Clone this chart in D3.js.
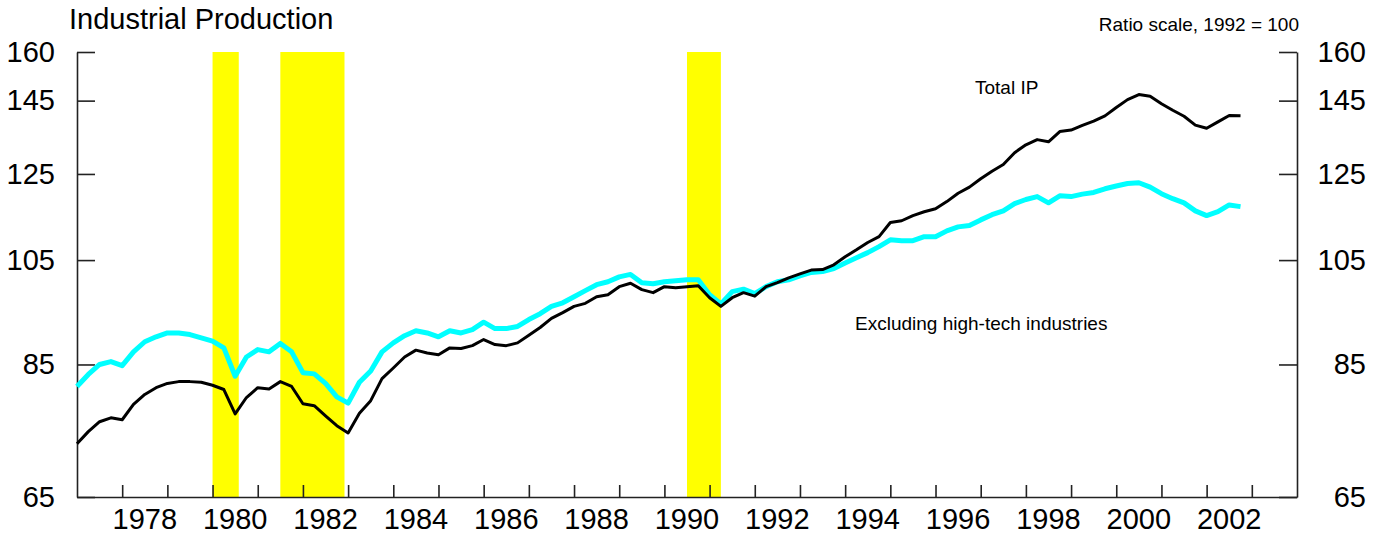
<!DOCTYPE html>
<html>
<head>
<meta charset="utf-8">
<script src="https://cdn.jsdelivr.net/npm/d3@7"></script>
<style>
  body { margin: 0; background: #fff; }
  svg text { font-family: "Liberation Sans", Arial, sans-serif; fill: #000; }
</style>
</head>
<body>
<svg width="1384" height="538"></svg>
<script>
// quarterly readings, first quarter of 1977 onwards (1992 = 100)
var startYear = 1977;
var totalIP = [
  72.4, 74.2, 75.7, 76.3,   76.0, 78.4, 80.0, 81.1,   81.8, 82.1, 82.1, 82.0,
  81.5, 80.8, 76.9, 79.5,   81.1, 80.9, 82.1, 81.3,   78.5, 78.2, 76.6, 75.1,
  74.0, 77.0, 79.0, 82.6,   84.4, 86.3, 87.5, 87.0,   86.7, 87.9, 87.8, 88.3,
  89.4, 88.5, 88.3, 88.8,   90.2, 91.6, 93.3, 94.4,   95.6, 96.2, 97.5, 97.9,
  99.5, 100.2, 98.9, 98.3,  99.5, 99.3, 99.5, 99.7,   97.3, 95.6, 97.3, 98.3,
  97.6, 99.5, 100.3, 101.3, 102.1, 102.9, 103.0, 104.0, 105.7, 107.2, 108.8, 110.1,
  113.3, 113.7, 114.9, 115.8, 116.5, 118.2, 120.2, 121.7, 123.8, 125.7, 127.4, 130.5,
  132.6, 134.0, 133.4, 136.2, 136.6, 137.9, 139.1, 140.6, 143.0, 145.3, 146.8, 146.3,
  144.1, 142.2, 140.5, 138.0, 137.1, 138.9, 140.7, 140.6
];
var exHighTech = [
  81.3, 83.3, 85.0, 85.5,   84.8, 87.2, 89.0, 89.9,   90.6, 90.6, 90.3, 89.7,
  89.1, 87.9, 83.0, 86.3,   87.6, 87.2, 88.7, 87.2,   83.6, 83.4, 81.8, 79.6,
  78.6, 82.0, 83.9, 87.2,   88.8, 90.1, 91.0, 90.6,   89.9, 91.0, 90.6, 91.2,
  92.6, 91.4, 91.4, 91.8,   93.1, 94.2, 95.6, 96.3,   97.5, 98.7, 99.9, 100.5,
  101.5, 102.0, 100.3, 100.1, 100.5, 100.7, 100.9, 100.9, 97.9, 96.1, 98.5, 99.0,
  98.1, 99.5, 100.5, 100.9, 101.7, 102.4, 102.6, 103.2, 104.4, 105.5, 106.6, 107.9,
  109.4, 109.2, 109.2, 110.1, 110.1, 111.4, 112.3, 112.6, 113.9, 115.1, 116.0, 117.7,
  118.7, 119.4, 117.9, 119.6, 119.4, 120.0, 120.4, 121.3, 122.0, 122.6, 122.8, 121.7,
  120.1, 118.9, 117.9, 116.0, 114.9, 115.8, 117.4, 117.0
];
var recessions = [[1980.0, 1980.58], [1981.5, 1982.92], [1990.5, 1991.25]];
var yTicks = [65, 85, 105, 125, 145, 160];
var yearLabels = [1978, 1980, 1982, 1984, 1986, 1988, 1990, 1992, 1994, 1996, 1998, 2000, 2002];
var yearTicks = d3.range(1978, 2004);

var svg = d3.select("svg"),
    plotLeft = 77, plotRight = 1297, plotTop = 52, plotBottom = 497;

var x = d3.scaleLinear().domain([1977, 2004]).range([plotLeft, plotRight]);
var y = d3.scaleLog().domain([65, 160]).range([plotBottom, plotTop]);

function dateOf(i) { return startYear + i / 4; }

// recession shading
svg.selectAll(".rec")
   .data(recessions)
   .enter()
   .append("rect")
   .attr("class", "rec")
   .attr("x", function(d) { return x(d[0]); })
   .attr("y", plotTop)
   .attr("width", function(d) { return x(d[1]) - x(d[0]); })
   .attr("height", plotBottom - plotTop)
   .attr("fill", "#ffff00");

// left axis
svg.append("g")
   .attr("transform", "translate(" + plotLeft + ",0)")
   .call(d3.axisLeft(y).tickValues(yTicks).tickFormat(d3.format("d"))
           .tickSizeInner(-18).tickSizeOuter(0).tickPadding(22));

// right axis
var gr = svg.append("g")
   .attr("transform", "translate(" + plotRight + ",0)")
   .call(d3.axisRight(y).tickValues(yTicks).tickFormat(d3.format("d"))
           .tickSizeInner(-18).tickSizeOuter(0).tickPadding(69));
gr.selectAll("text").attr("text-anchor", "end");

// bottom axis, ticks only
svg.append("g")
   .attr("transform", "translate(0," + plotBottom + ")")
   .call(d3.axisBottom(x).tickValues(yearTicks).tickFormat("")
           .tickSizeInner(-12).tickSizeOuter(0));

svg.selectAll(".domain, .tick line")
   .attr("stroke", "#222")
   .attr("stroke-width", 1.6);
svg.selectAll(".tick text")
   .attr("font-size", "29px")
   .attr("font-family", "Liberation Sans, Arial, sans-serif")
   .attr("fill", "#000");

// year labels centred on each year
svg.selectAll(".yr")
   .data(yearLabels)
   .enter()
   .append("text")
   .attr("class", "yr")
   .attr("x", function(d) { return x(d + 0.5); })
   .attr("y", 529)
   .attr("text-anchor", "middle")
   .attr("font-size", "29px")
   .text(function(d) { return d; });

var line = d3.line()
   .x(function(d, i) { return x(dateOf(i)); })
   .y(function(d) { return y(d); });

svg.append("path")
   .datum(exHighTech)
   .attr("fill", "none")
   .attr("stroke", "#00ffff")
   .attr("stroke-width", 5)
   .attr("stroke-linejoin", "round")
   .attr("d", line);

svg.append("path")
   .datum(totalIP)
   .attr("fill", "none")
   .attr("stroke", "#000")
   .attr("stroke-width", 3)
   .attr("stroke-linejoin", "round")
   .attr("d", line);

// titles and labels
svg.append("text")
   .attr("x", 69)
   .attr("y", 29)
   .attr("font-size", "29px")
   .text("Industrial Production");

svg.append("text")
   .attr("x", 1299)
   .attr("y", 31)
   .attr("text-anchor", "end")
   .attr("font-size", "19px")
   .text("Ratio scale, 1992 = 100");

svg.append("text")
   .attr("x", 975)
   .attr("y", 94)
   .attr("font-size", "19px")
   .text("Total IP");

svg.append("text")
   .attr("x", 855)
   .attr("y", 330)
   .attr("font-size", "19px")
   .text("Excluding high-tech industries");
</script>
</body>
</html>
